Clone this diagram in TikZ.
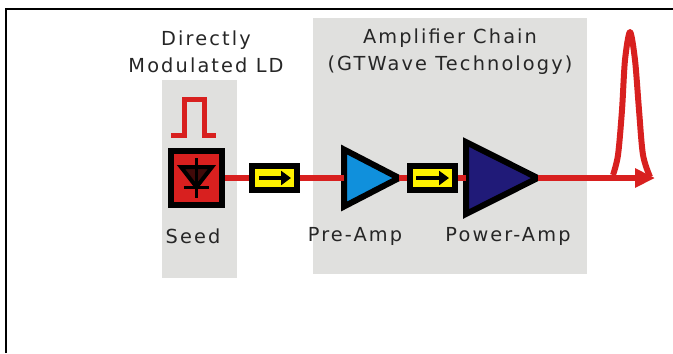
\documentclass[tikz,border=0pt]{standalone}
\usepackage{fontspec}
\setmainfont[LetterSpace=11]{DejaVu Sans}
\usetikzlibrary{arrows.meta,shapes.geometric}
\definecolor{panelgray}{HTML}{E0E0DE}
\definecolor{beamred}{HTML}{D8201F}
\definecolor{preblue}{HTML}{1090DC}
\definecolor{powerblue}{HTML}{201A78}
\definecolor{isoyellow}{HTML}{FFF200}
\begin{document}
\begin{tikzpicture}[x=0.03cm,y=-0.03cm]
\useasboundingbox (0,0) rectangle (673,353);
\draw[line width=0.06cm] (6,353) -- (6,9) -- (673,9);
\begin{scope}[every node/.style={fill=panelgray,inner sep=0pt}]
    \node[minimum width=2.25cm,minimum height=5.94cm] (seedpanel) at (199.5,179) {};
    \node[minimum width=8.22cm,minimum height=7.68cm] (amppanel) at (450,146) {};
\end{scope}
\begin{scope}[every node/.style={draw=black,line width=0.18cm,inner sep=0pt}]
    \node[fill=beamred,minimum width=1.53cm,minimum height=1.62cm] (seed) at (196.5,178) {};
    \node[fill=isoyellow,minimum width=1.35cm,minimum height=0.72cm] (iso1) at (274.5,178) {};
    \node[fill=isoyellow,minimum width=1.35cm,minimum height=0.72cm] (iso2) at (432,178) {};
    \node[fill=preblue,isosceles triangle,isosceles triangle stretches,anchor=west,
          minimum width=1.71cm,minimum height=1.65cm,outer sep=0pt] (preamp) at (344,178) {};
    \node[fill=powerblue,isosceles triangle,isosceles triangle stretches,anchor=west,
          minimum width=2.16cm,minimum height=2.15cm,outer sep=0pt] (poweramp) at (466,178) {};
\end{scope}
\coordinate (out) at (655,178);
\begin{scope}[every path/.style={draw=beamred,line width=0.2cm}]
    \path (seed.east) -- (iso1.west);
    \path (iso1.east) -- (preamp.west);
    \path (preamp.east) -- (iso2.west);
    \path (iso2.east) -- (poweramp.west);
    \path[-{Triangle[length=0.6cm,width=0.55cm]}] (poweramp.east) -- (out);
\end{scope}
% arrows inside the isolators
\draw[line width=0.14cm,-{Triangle[length=0.3cm,width=0.42cm]}] (259,178) -- (291,178);
\draw[line width=0.14cm,-{Triangle[length=0.3cm,width=0.42cm]}] (416,178) -- (449,178);
% diode
\draw[line width=0.12cm,fill=black!70!beamred] (181,167) -- (212,167) -- (196.5,187) -- cycle;
\draw[line width=0.09cm] (196.5,158) -- (196.5,198);
\draw[line width=0.09cm] (184,187) -- (209,187);
% input pulse and output pulse
\draw[beamred,line width=0.15cm] (171,135) -- (184,135) -- (184,99) -- (204,99) -- (204,135) -- (216,135);
\draw[beamred,line width=0.18cm,line join=round] plot[smooth,tension=0.5] coordinates
    {(613,175) (618,155) (622,110) (625,60) (630,32) (635,60) (639,110) (643,155) (650,177)};
\begin{scope}[every node/.style={font=\fontsize{16.5}{23}\selectfont,text=black!85,align=center,inner sep=0pt}]
    \node (seedtitle) at (206,52) {Directly\\Modulated LD};
    \node (amptitle) at (450,52) {Amplifier Chain\\(GTWave Technology)};
    \node (seedlabel) at (193,236) {Seed};
    \node (prelabel) at (355,236) {Pre-Amp};
    \node (powerlabel) at (508,236) {Power-Amp};
\end{scope}
\end{tikzpicture}
\end{document}
